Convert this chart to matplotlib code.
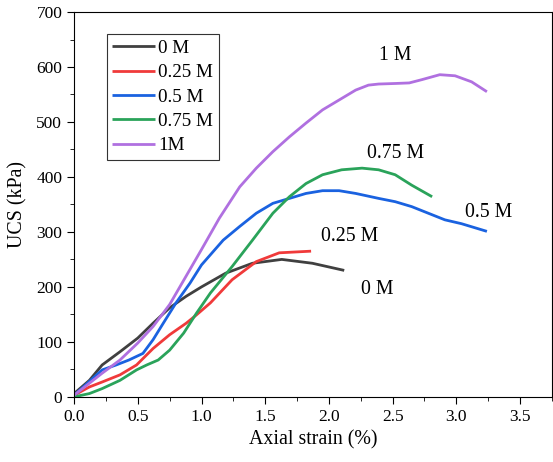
import matplotlib
matplotlib.use("Agg")
import matplotlib.pyplot as plt
from matplotlib.ticker import MultipleLocator, FormatStrFormatter

plt.rcParams['font.family'] = ['Liberation Serif', 'DejaVu Serif']

strain_0 = [0.0, 0.12, 0.22, 0.36, 0.5, 0.62, 0.75, 0.88, 1.0, 1.19, 1.4, 1.63, 1.87, 2.12]
ucs_0 = [6, 30, 58, 82, 107, 134, 162, 183, 200, 225, 243, 250, 243, 230]

strain_025 = [0.0, 0.12, 0.22, 0.36, 0.49, 0.62, 0.75, 0.88, 0.96, 1.07, 1.24, 1.43, 1.61, 1.86]
ucs_025 = [3, 18, 27, 40, 58, 88, 113, 134, 149, 171, 213, 246, 262, 265]

strain_05 = [0.0, 0.22, 0.33, 0.43, 0.54, 0.62, 0.7, 0.8, 0.91, 1.0, 1.17, 1.3, 1.43, 1.56,
             1.69, 1.82, 1.95, 2.08, 2.21, 2.39, 2.52, 2.65, 2.78, 2.91, 3.04, 3.24]
ucs_05 = [3, 49, 58, 67, 79, 104, 134, 171, 207, 240, 285, 310, 334, 352,
          361, 370, 375, 375, 370, 361, 355, 346, 334, 322, 315, 301]

strain_075 = [0.0, 0.12, 0.22, 0.36, 0.49, 0.57, 0.66, 0.75, 0.86, 0.96, 1.07, 1.24, 1.4, 1.56,
              1.69, 1.82, 1.95, 2.1, 2.26, 2.39, 2.52, 2.65, 2.81]
ucs_075 = [0, 6, 15, 30, 49, 58, 67, 85, 116, 152, 189, 237, 285, 334,
           364, 388, 404, 413, 416, 413, 404, 385, 364]

strain_1 = [0.0, 0.22, 0.36, 0.5, 0.62, 0.75, 0.88, 1.0, 1.14, 1.3, 1.43, 1.56, 1.69,
            1.82, 1.95, 2.08, 2.21, 2.31, 2.39, 2.52, 2.63, 2.73, 2.87, 2.99, 3.12, 3.24]
ucs_1 = [3, 43, 67, 98, 128, 168, 220, 268, 325, 382, 416, 446, 473,
         498, 522, 540, 558, 567, 569, 570, 571, 577, 586, 584, 573, 555]

series = [
    ("0 M", strain_0, ucs_0, "#404040"),
    ("0.25 M", strain_025, ucs_025, "#f03a3a"),
    ("0.5 M", strain_05, ucs_05, "#1a62e0"),
    ("0.75 M", strain_075, ucs_075, "#2aa35a"),
    ("1M", strain_1, ucs_1, "#b070e0"),
]

annotations = [("1 M", 2.52, 620), ("0.75 M", 2.52, 443), ("0.5 M", 3.25, 335),
               ("0.25 M", 2.16, 291), ("0 M", 2.38, 195)]

fig = plt.figure(figsize=(5.53, 4.62), dpi=100)
ax = fig.add_axes([0.134, 0.141, 0.864, 0.833])

for label, x, y, c in series:
    ax.plot(x, y, color=c, lw=2.0, label=label, solid_joinstyle='round',
            solid_capstyle='butt')

for text, x, y in annotations:
    ax.text(x, y, text, fontsize=14.3, ha='center', va='center')

ax.set_xlim(0, 3.75)
ax.set_ylim(0, 700)
ax.xaxis.set_major_locator(MultipleLocator(0.5))
ax.xaxis.set_minor_locator(MultipleLocator(0.25))
ax.yaxis.set_major_locator(MultipleLocator(100))
ax.yaxis.set_minor_locator(MultipleLocator(50))
ax.xaxis.set_major_formatter(FormatStrFormatter('%.1f'))
ax.tick_params(which='both', direction='out', top=False, right=False, labelsize=12.5)
ax.tick_params(which='major', length=5)
ax.tick_params(which='minor', length=3)
ax.set_xlabel("Axial strain (%)", fontsize=14.3)
ax.set_ylabel("UCS (kPa)", fontsize=14.3, labelpad=6)

leg = ax.legend(loc='upper left', bbox_to_anchor=(0.068, 0.943), fontsize=13.8,
                frameon=True, fancybox=False, edgecolor='#333333', framealpha=1,
                handlelength=2.2, handletextpad=0.2, labelspacing=0.36, borderpad=0.3,
                borderaxespad=0)
leg.get_frame().set_linewidth(0.8)

fig.savefig("out.png", dpi=100)
